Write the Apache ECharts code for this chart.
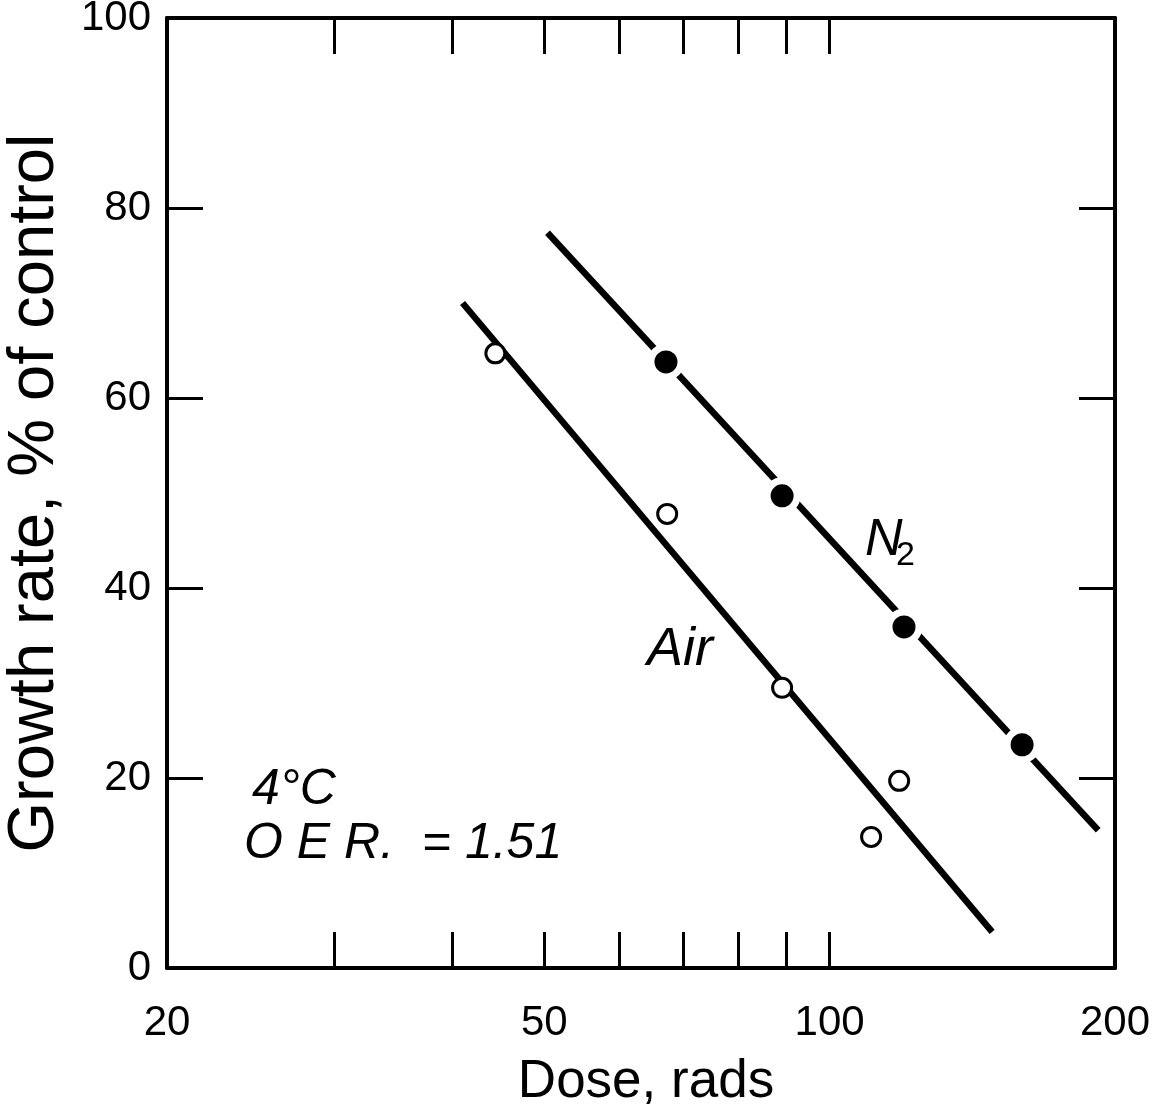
<!DOCTYPE html>
<html>
<head>
<meta charset="utf-8">
<script src="https://cdn.jsdelivr.net/npm/echarts@6/dist/echarts.min.js"></script>
<style>
html,body{margin:0;padding:0;background:#fff;}
#chart{width:1164px;height:1108px;}
</style>
</head>
<body>
<div id="chart"></div>
<script>
// ---- data ----
const n2Dose   = [67.2, 89.1, 119.8, 159.6];
const n2Growth = [63.8, 49.7, 35.9, 23.5];
const airDose   = [44.4, 67.4, 89.1, 110.6, 118.4];
const airGrowth = [64.7, 47.8, 29.5, 13.8, 19.7];
const n2LineDose   = [50.4, 192];
const n2LineGrowth = [77.4, 14.5];
const airLineDose   = [41.0, 148.4];
const airLineGrowth = [70.0, 3.8];
const xTickValues  = [30, 40, 50, 60, 70, 80, 90, 100];
const xLabelValues = [20, 50, 100, 200];

const FONT = '"Liberation Sans", Arial, Helvetica, sans-serif';
const zip = (a, b) => a.map((v, i) => [v, b[i]]);

const chart = echarts.init(document.getElementById('chart'));
const axisLine = {show: true, onZero: false, lineStyle: {color: '#000', width: 4}};
const tick = {show: true, inside: true, length: 36, lineStyle: {color: '#000', width: 3}};

chart.setOption({
  animation: false,
  backgroundColor: '#fff',
  grid: {left: 167, right: 49, top: 18, bottom: 140, containLabel: false, outerBoundsMode: 'none'},
  xAxis: [
    {
      type: 'log', logBase: 10, min: 20, max: 200, position: 'bottom', gridIndex: 0,
      axisLine: axisLine,
      axisTick: Object.assign({}, tick, {customValues: xTickValues}),
      axisLabel: {customValues: xLabelValues, fontSize: 42, color: '#000', fontFamily: FONT, margin: 34},
      splitLine: {show: false}, minorTick: {show: false},
      name: 'Dose, rads', nameLocation: 'middle', nameGap: 88,
      nameTextStyle: {fontSize: 53, color: '#000', fontFamily: FONT, padding: [0, 0, 0, 10]}
    },
    {
      type: 'log', logBase: 10, min: 20, max: 200, position: 'top', gridIndex: 0,
      axisLine: axisLine,
      axisTick: Object.assign({}, tick, {customValues: xTickValues}),
      axisLabel: {show: false},
      splitLine: {show: false}
    }
  ],
  yAxis: [
    {
      type: 'value', min: 0, max: 100, interval: 20, position: 'left', gridIndex: 0,
      axisLine: axisLine, axisTick: tick,
      axisLabel: {fontSize: 42, color: '#000', fontFamily: FONT, margin: 16},
      splitLine: {show: false},
      name: 'Growth rate, % of control', nameLocation: 'middle', nameGap: 99,
      nameTextStyle: {fontSize: 65, color: '#000', fontFamily: FONT}
    },
    {
      type: 'value', min: 0, max: 100, interval: 20, position: 'right', gridIndex: 0,
      axisLine: axisLine, axisTick: tick,
      axisLabel: {show: false}, splitLine: {show: false}
    }
  ],
  series: [
    {
      type: 'line', data: zip(n2LineDose, n2LineGrowth), showSymbol: false,
      lineStyle: {color: '#000', width: 6.5}, z: 2
    },
    {
      type: 'line', data: zip(airLineDose, airLineGrowth), showSymbol: false,
      lineStyle: {color: '#000', width: 6.5}, z: 2
    },
    {
      type: 'scatter', data: zip(n2Dose, n2Growth), symbol: 'circle', symbolSize: 30,
      itemStyle: {color: '#000', borderColor: '#fff', borderWidth: 7, opacity: 1}, z: 3
    },
    {
      type: 'scatter', data: zip(airDose, airGrowth), symbol: 'circle', symbolSize: 19,
      itemStyle: {color: '#fff', borderColor: '#000', borderWidth: 3, opacity: 1}, z: 3
    }
  ],
  graphic: [
    {type: 'text', x: 252, y: 790, style: {text: '4°C', font: 'italic 50px ' + FONT, fill: '#000', verticalAlign: 'middle'}},
    {type: 'text', x: 244, y: 844, style: {text: 'O E R.  = 1.51', font: 'italic 50px ' + FONT, fill: '#000', verticalAlign: 'middle'}},
    {type: 'text', x: 647, y: 650, style: {text: 'Air', font: 'italic 54px ' + FONT, fill: '#000', verticalAlign: 'middle'}},
    {type: 'text', x: 865, y: 541, style: {text: 'N', font: 'italic 52px ' + FONT, fill: '#000', verticalAlign: 'middle'}},
    {type: 'text', x: 896, y: 556, style: {text: '2', font: '34px ' + FONT, fill: '#000', verticalAlign: 'middle'}}
  ]
});
</script>
</body>
</html>
